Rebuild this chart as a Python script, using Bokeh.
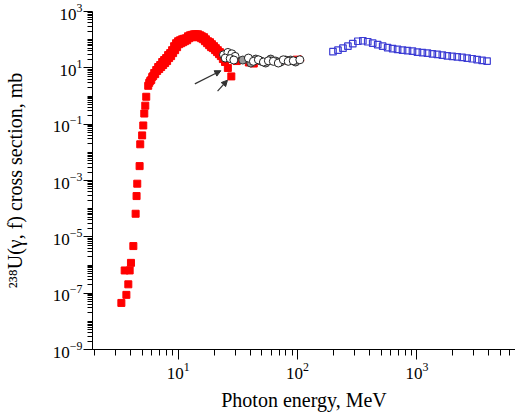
from bokeh.plotting import figure
from bokeh.models import Range1d, FixedTicker, Arrow, NormalHead
from bokeh.embed import file_html
from bokeh.resources import INLINE

# Red filled squares: photofission cross section (low energy + GDR region)
red_energy = [3.35, 3.69, 3.83, 3.57, 3.93, 4.03, 4.22, 4.41, 4.49, 4.55, 4.76, 4.82, 5.00, 5.11, 5.21, 5.31, 5.41, 5.62,
              5.84, 6.07, 6.31, 6.56, 6.81, 7.08, 7.36, 7.64, 7.94, 8.25, 8.58, 8.91, 9.26, 9.62, 10.0, 10.39, 10.8,
              11.2, 11.66, 12.1, 12.6, 13.1, 13.6, 14.1, 14.7, 15.3, 15.8, 16.5, 17.1, 17.8, 18.5, 19.2, 20.0, 20.7,
              21.5, 22.4, 23.3, 24.2,
              5.73, 5.96, 6.19, 6.43, 6.68, 6.95, 7.22, 7.50, 7.79, 8.09, 8.41, 8.74, 9.08, 9.44, 9.81, 10.2, 10.6,
              11.0, 11.4, 11.9, 12.35, 12.8, 13.3, 13.85, 14.4, 15.0, 15.6, 16.2, 16.8, 17.5, 18.2, 18.9, 19.6, 20.4,
              21.2, 22.0, 22.8, 23.7, 24.7,
              26.1, 27.9, 31.0, 39.1, 43.0, 77.9, 98.1]
red_xs = [4.5e-8, 8.7e-8, 2.06e-7, 6.4e-7, 6.4e-7, 1.19e-6, 4.7e-6, 6.6e-5, 2.8e-4, 7.7e-4, 3.24e-3, 0.0193, 0.040,
          0.090, 0.238, 0.454, 0.94, 2.3,
          3.44, 4.76, 6.58, 8.39, 10.7, 12.6, 16.1, 18.9, 22.2, 28.3, 33.3, 42.4, 58.7, 74.8, 88, 95.4, 103,
          108, 112, 132, 143, 149, 155, 155, 155, 143, 132, 122, 103, 88, 81.2, 69, 58.7, 49.9,
          42.4, 36.1, 30.7, 24.1,
          2.93, 3.73, 5.16, 6.0, 7.74, 9.10, 10.7, 12.6, 14.8, 17.4, 22.2, 26.1, 33.3, 42.4, 54.1, 69, 74.8,
          81.2, 88, 95.4, 112, 122, 122, 132, 132, 122, 112, 103, 88, 74.8, 63.6, 54.1, 49.9, 42.4,
          36.1, 30.7, 26.1, 20.5, 16.1,
          9.9, 4.96, 17.4, 15.5, 14.2, 18.5, 19.5]

red_tri_energy = [106]
red_tri_xs = [20.5]

# Open circles
open_energy = [24.0, 26.1, 28.2, 30.0, 24.8, 27.3, 29.3,
               38.8, 42.7, 47.0, 51.8, 57.0, 62.7, 69.0, 76.0, 83.6, 92.1, 104.5]
open_xs = [29.0, 35.2, 31.5, 25.5, 22.2, 21.3, 18.9,
           22.2, 17.0, 19.3, 16.1, 17.8, 17.0, 14.8, 19.3, 17.0, 17.8, 19.3]

# Grey circles
grey_energy = [34.8, 40.6, 44.7, 49.2, 54.1, 59.6, 65.6, 72.2, 79.4, 87.4, 96.2]
grey_xs = [18.9, 14.8, 20.5, 17.4, 14.8, 20.5, 17.4, 16.1, 18.9, 18.9, 16.1]

# Blue open squares (high energy)
blue_energy = [198, 218, 240, 264, 290, 320, 352, 387, 426, 469, 516, 568, 625, 688, 757, 833, 917, 1009,
               1110, 1222, 1345, 1480, 1629, 1793, 1973, 2172, 2390, 2630, 2896, 3187, 3508, 3861]
blue_xs = [37.6, 42.4, 49.9, 58.7, 71.8, 88, 91.6, 84.5, 74.8, 66.3, 58.7, 52, 47.9, 44.9, 42.4, 40.7, 39.1,
           36.1, 34.7, 33.3, 31.4, 29.9, 28.3, 26.7, 25.7, 24.5, 23.5, 22.2, 21.0, 19.7, 18.4, 17.4]

# Arrows (data coordinates): start energy, start xs, end energy, end xs
arrow_x0 = [13.8, 21.4]
arrow_y0 = [2.7, 1.5]
arrow_x1 = [22.8, 25.9]
arrow_y1 = [7.9, 3.65]

x_label = "Photon energy, MeV"
y_label = "\u00b2\u00b3\u2078U(\u03b3, f) cross section, mb"

p = figure(width=515, height=417, x_axis_type="log", y_axis_type="log",
           x_range=Range1d(1.92, 6680), y_range=Range1d(1e-9, 1e3),
           output_backend="svg", toolbar_location=None,
           min_border_left=90, min_border_right=0, min_border_top=11, min_border_bottom=68)
p.outline_line_color = None
p.xgrid.visible = False
p.ygrid.visible = False
p.background_fill_color = "white"
p.border_fill_color = "white"

p.yaxis[0].ticker = FixedTicker(ticks=[10.0 ** e for e in range(-9, 4, 2)],
                                minor_ticks=[k * 10.0 ** e for e in range(-9, 3) for k in range(1, 10)])
p.xaxis[0].ticker = FixedTicker(ticks=[10.0, 100.0, 1000.0],
                                minor_ticks=[k * 10.0 ** e for e in range(0, 4) for k in range(2, 10)])

for ax in (p.xaxis[0], p.yaxis[0]):
    ax.axis_line_color = "black"
    ax.major_tick_line_color = "black"
    ax.minor_tick_line_color = "black"
    ax.major_tick_in = 0
    ax.minor_tick_in = 0
    ax.major_label_text_font = "Liberation Serif"
    ax.major_label_text_font_size = "17px"
    ax.major_label_text_color = "black"
    ax.axis_label_text_font = "Liberation Serif"
    ax.axis_label_text_font_size = "20px"
    ax.axis_label_text_font_style = "normal"
    ax.axis_label_text_color = "black"

p.xaxis[0].major_tick_out = 10
p.xaxis[0].minor_tick_out = 6
p.yaxis[0].major_tick_out = 9
p.yaxis[0].minor_tick_out = 5
p.xaxis[0].major_label_standoff = 3
p.yaxis[0].major_label_standoff = 1
p.xaxis[0].axis_label = x_label
p.yaxis[0].axis_label = y_label
p.xaxis[0].axis_label_standoff = 7
p.yaxis[0].axis_label_standoff = 24

p.scatter(red_energy, red_xs, marker="square", size=7, fill_color="#ff0000", line_color="#ff0000")
p.scatter(red_tri_energy, red_tri_xs, marker="triangle", size=7, fill_color="#ff0000", line_color="#ff0000")
p.scatter(grey_energy, grey_xs, marker="circle", size=8, fill_color="#9a9a9a", line_color="#333333", line_width=1)
p.scatter(open_energy, open_xs, marker="circle", size=8, fill_color="white", line_color="#222222", line_width=1)
p.scatter(blue_energy, blue_xs, marker="square", size=6.5, fill_color="white", fill_alpha=0.0,
          line_color="#3c3cd4", line_width=1.2)

for i in range(len(arrow_x0)):
    p.add_layout(Arrow(x_start=arrow_x0[i], y_start=arrow_y0[i], x_end=arrow_x1[i], y_end=arrow_y1[i],
                       line_color="#333333", line_width=1.2,
                       end=NormalHead(size=6, fill_color="#333333", line_color="#333333")))

open("out.html", "w").write(file_html(p, INLINE))
